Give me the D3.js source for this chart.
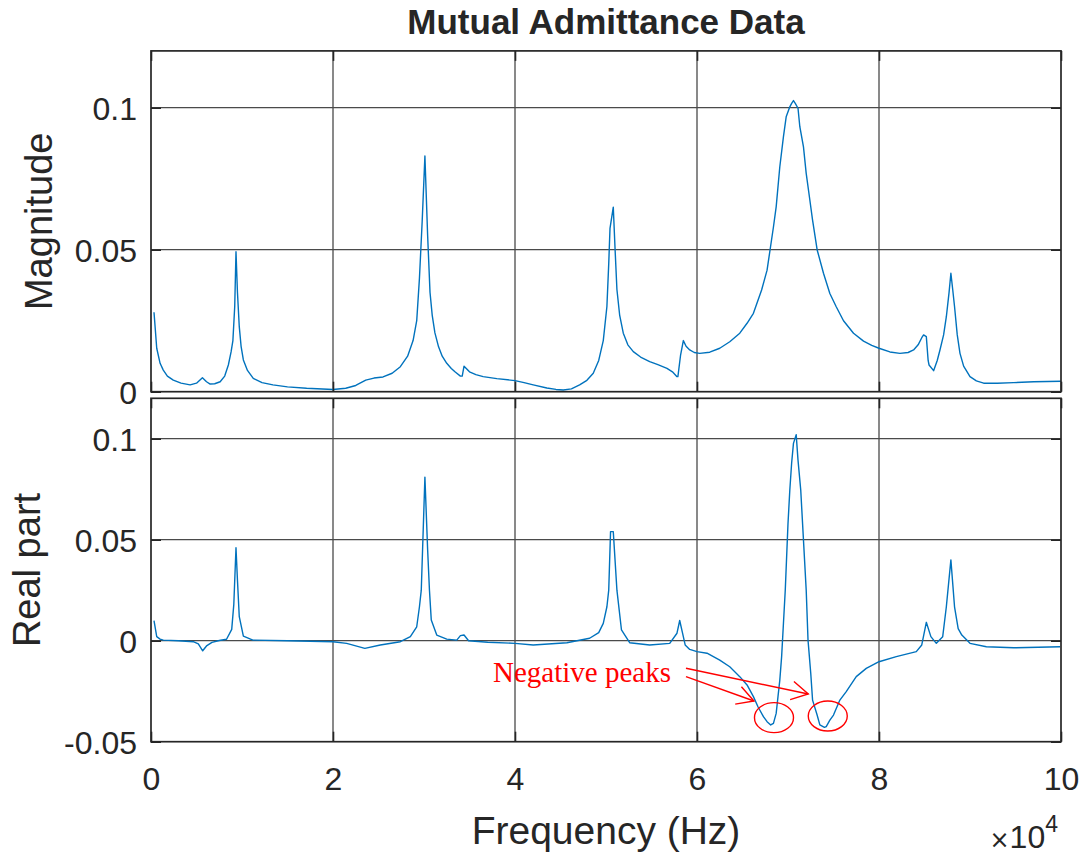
<!DOCTYPE html>
<html lang="en">
    <head>
        <meta charset="utf-8">
        <title>Mutual Admittance Data</title>
        <script src="https://d3js.org/d3.v7.min.js"></script>
        <style type="text/css">
            body { margin: 0; background: #fff; }
            svg { display: block; }
            .tick text, .lbl { font-family: "Liberation Sans", Arial, sans-serif; fill: #262626; }
        </style>
    </head>
    <body>
        <svg id="chart" width="1086" height="854"></svg>
        <script type="text/javascript">

            // frequency in Hz
            const magFreq = [
                330, 630, 1000, 1350, 1800, 2450, 3300, 4300, 5000, 5650,
                6100, 6500, 7000, 7600, 8100, 8500, 8800, 9000, 9200, 9340,
                9500, 9700, 9900, 10150, 10600, 11240, 12200, 13400, 15000, 17100,
                20000, 21400, 22500, 23600, 24500, 25500, 26500, 27400, 28200, 28800,
                29200, 29500, 29800, 30100, 30400, 30660, 30900, 31200, 31600, 32000,
                32500, 33000, 33400, 34000, 34200, 34400, 34700, 35000, 35700, 36500,
                38000, 40000, 41000, 42000, 43500, 44500, 45300, 46200, 47100, 47900,
                48600, 49200, 49700, 50100, 50300, 50440, 50800, 51000, 51200, 51500,
                51900, 52400, 53000, 53800, 54800, 55700, 56700, 57300, 57800, 57900,
                58200, 58500, 58800, 59200, 59700, 60300, 61400, 62500, 63600, 64700,
                65500, 66200, 67100, 67700, 68400, 68700, 69100, 69500, 69800, 70200,
                70400, 70600, 70800, 71100, 71300, 71700, 72000, 72400, 72700, 73200,
                73900, 74600, 75300, 76100, 77200, 78300, 79200, 80000, 81200, 82300,
                83200, 83800, 84300, 84700, 84900, 85200, 85400, 85500, 86000, 86400,
                86700, 87100, 87400, 87700, 87900, 88100, 88300, 88600, 88900, 89300,
                90000, 90700, 91500, 93000, 94800, 97000, 100000];
            const magValue = [
                0.028, 0.0153, 0.010, 0.0076, 0.0055, 0.0041, 0.0030, 0.0024, 0.0030, 0.0049,
                0.0035, 0.0027, 0.0028, 0.0035, 0.0055, 0.0094, 0.0140, 0.0180, 0.030, 0.0493,
                0.035, 0.0229, 0.0160, 0.0112, 0.0075, 0.0047, 0.0032, 0.0024, 0.0017, 0.0012,
                0.0008, 0.0012, 0.0022, 0.0041, 0.0048, 0.0052, 0.0065, 0.0088, 0.0125, 0.0180,
                0.025, 0.040, 0.060, 0.083, 0.055, 0.035, 0.027, 0.0207, 0.0158, 0.0125,
                0.0100, 0.0082, 0.0070, 0.0055, 0.0055, 0.0090, 0.0080, 0.0070, 0.0060, 0.0053,
                0.0046, 0.0039, 0.0032, 0.0024, 0.0013, 0.0008, 0.0006, 0.0010, 0.0024, 0.0040,
                0.0065, 0.0110, 0.0180, 0.0300, 0.0450, 0.0575, 0.065, 0.050, 0.036, 0.027,
                0.0206, 0.0165, 0.0141, 0.0122, 0.0106, 0.0095, 0.0082, 0.0070, 0.0053, 0.0053,
                0.0130, 0.0180, 0.0160, 0.0147, 0.0138, 0.0135, 0.0139, 0.0153, 0.0176, 0.0206,
                0.0241, 0.0276, 0.0358, 0.0428, 0.058, 0.0651, 0.0792, 0.0898, 0.0968, 0.1003,
                0.1015, 0.1025, 0.1015, 0.0998, 0.0933, 0.0862, 0.0769, 0.0675, 0.0604, 0.0500,
                0.0417, 0.0346, 0.0299, 0.0250, 0.0206, 0.0178, 0.0163, 0.0153, 0.0140, 0.0135,
                0.0138, 0.0147, 0.0165, 0.0190, 0.0200, 0.0194, 0.0110, 0.0094, 0.0074, 0.0110,
                0.0147, 0.0200, 0.0264, 0.0350, 0.0417, 0.0360, 0.0300, 0.0200, 0.0135, 0.0090,
                0.0053, 0.0038, 0.0030, 0.0030, 0.0032, 0.0035, 0.0037];

            const reFreq = [
                330, 630, 1000, 1350, 3000, 4650, 5200, 5680, 6100, 6700,
                7500, 8300, 8870, 9100, 9340, 9500, 9700, 10150, 11200, 15000,
                20000, 21500, 23500, 25200, 27400, 28500, 29200, 29500, 29700, 30100,
                30400, 30600, 30800, 31400, 32500, 33600, 34000, 34400, 34900, 37000,
                40000, 42000, 45700, 48200, 49200, 49700, 50100, 50300, 50500, 50800,
                51200, 51700, 52600, 54800, 57000, 57800, 58100, 58400, 58700, 59200,
                60000, 61100, 62500, 63600, 64700, 65500, 66200, 66700, 67300, 67700,
                68100, 68400, 68700, 68900, 69100, 69300, 69500, 69700, 70000, 70200,
                70400, 70600, 70900, 71100, 71400, 71700, 72000, 72200, 72500, 72700,
                73200, 73500, 74000, 74200, 74600, 75000, 75700, 76400, 77500, 78600,
                80000, 81900, 84100, 84700, 85200, 85700, 86300, 87000, 87400, 87900,
                88300, 88700, 89100, 90000, 91800, 94800, 99900];
            const reValue = [
                0.0099, 0.0020, 0.0008, 0.0003, 0.0, -0.0005, -0.0016, -0.0050, -0.0026, -0.0008,
                0.0001, 0.0007, 0.0056, 0.018, 0.046, 0.030, 0.0119, 0.0023, 0.0003, 0.0,
                -0.0005, -0.0013, -0.0038, -0.0021, -0.0005, 0.0020, 0.0069, 0.0168, 0.025, 0.081,
                0.045, 0.025, 0.0102, 0.0028, 0.0008, 0.0003, 0.0025, 0.0028, 0.0, -0.0008,
                -0.0013, -0.0021, -0.0010, 0.0012, 0.0040, 0.0086, 0.0168, 0.025, 0.054, 0.054,
                0.025, 0.0053, -0.0010, -0.0021, -0.0013, 0.0037, 0.0100, 0.0040, -0.0021, -0.0043,
                -0.0054, -0.0062, -0.0096, -0.0129, -0.0178, -0.0219, -0.0277, -0.0327, -0.0376, -0.0401,
                -0.0417, -0.0409, -0.0360, -0.0277, -0.0195, -0.0079, 0.0086, 0.0251, 0.0580, 0.0746,
                0.0880, 0.0977, 0.1020, 0.0894, 0.0746, 0.0498, 0.0251, 0.0003, -0.0161, -0.0294,
                -0.0368, -0.0417, -0.0429, -0.0425, -0.0393, -0.0368, -0.0294, -0.0252, -0.0178, -0.0137,
                -0.0104, -0.0079, -0.0054, -0.0021, 0.0091, 0.0020, -0.0013, 0.0020, 0.0168, 0.0400,
                0.0168, 0.0060, 0.0028, -0.0013, -0.0030, -0.0035, -0.0030];

            const xTicks = [0, 20000, 40000, 60000, 80000, 100000];
            const magTicks = [0, 0.05, 0.1];
            const reTicks = [-0.05, 0, 0.05, 0.1];

            // annotation anchors (Hz, real part)
            const notePos = [37580, -0.0204];
            const arrowStart = [[58790, -0.0178], [58790, -0.01366]];
            const arrowEnd = [[66260, -0.02985], [72230, -0.02638]];
            const circleCenter = [[68460, -0.0381], [74370, -0.0373]];

            const left = 151, right = 1061;
            const ink = "#262626";
            const lineColor = "#0072BD";

            const svg = d3.select("#chart");

            const x = d3.scaleLinear().domain([0, 100000]).range([left, right]);

            function fmt(d) {
                // plain hyphen minus like the original
                return String(+d.toFixed(2));
            }

            function drawPanel(freq, vals, yDomain, yRange, yTicks, label, labelX) {
                const y = d3.scaleLinear().domain(yDomain).range(yRange);
                const g = svg.append("g");

                // grid
                g.selectAll(".vg").data(xTicks.slice(1, -1)).join("line")
                    .attr("x1", d => x(d)).attr("x2", d => x(d))
                    .attr("y1", yRange[1]).attr("y2", yRange[0])
                    .attr("stroke", "#4a4a4a").attr("stroke-width", 1.3);
                g.selectAll(".hg").data(yTicks.filter(t => y(t) > yRange[1] + 1 && y(t) < yRange[0] - 1)).join("line")
                    .attr("x1", left).attr("x2", right)
                    .attr("y1", d => y(d)).attr("y2", d => y(d))
                    .attr("stroke", "#4a4a4a").attr("stroke-width", 1.3);

                // curve
                const pts = freq.map((f, i) => [f, vals[i]]);
                g.append("path")
                    .datum(pts)
                    .attr("fill", "none")
                    .attr("stroke", lineColor)
                    .attr("stroke-width", 1.4)
                    .attr("stroke-linejoin", "round")
                    .attr("d", d3.line().x(d => x(d[0])).y(d => y(d[1])));

                // axes with inward ticks
                const tl = 10;
                g.append("g").attr("transform", "translate(" + left + ",0)")
                    .call(d3.axisLeft(y).tickValues(yTicks).tickSizeInner(-tl).tickSizeOuter(0).tickPadding(14).tickFormat(fmt))
                    .call(a => a.select(".domain").remove())
                    .call(a => a.selectAll("line").attr("stroke", ink).attr("stroke-width", 1.6))
                    .call(a => a.selectAll("text").attr("font-size", 32).attr("fill", ink).attr("dy", "0.36em"));
                g.append("g").attr("transform", "translate(" + right + ",0)")
                    .call(d3.axisRight(y).tickValues(yTicks).tickSizeInner(-tl).tickSizeOuter(0).tickFormat(""))
                    .call(a => a.select(".domain").remove())
                    .call(a => a.selectAll("line").attr("stroke", ink).attr("stroke-width", 1.6));
                g.append("g").attr("transform", "translate(0," + yRange[1] + ")")
                    .call(d3.axisTop(x).tickValues(xTicks).tickSizeInner(-tl).tickSizeOuter(0).tickFormat(""))
                    .call(a => a.select(".domain").remove())
                    .call(a => a.selectAll("line").attr("stroke", ink).attr("stroke-width", 1.6));
                g.append("g").attr("transform", "translate(0," + yRange[0] + ")")
                    .call(d3.axisBottom(x).tickValues(xTicks).tickSizeInner(-tl).tickSizeOuter(0).tickFormat(""))
                    .call(a => a.select(".domain").remove())
                    .call(a => a.selectAll("line").attr("stroke", ink).attr("stroke-width", 1.6));

                // box
                g.append("rect")
                    .attr("x", left).attr("y", yRange[1])
                    .attr("width", right - left).attr("height", yRange[0] - yRange[1])
                    .attr("fill", "none").attr("stroke", ink).attr("stroke-width", 1.7);

                // y label
                const cy = (yRange[0] + yRange[1]) / 2;
                g.append("text").attr("class", "lbl")
                    .attr("transform", "translate(" + labelX + "," + cy + ") rotate(-90)")
                    .attr("text-anchor", "middle")
                    .attr("font-size", 38)
                    .text(label);

                return y;
            }

            const yMag = drawPanel(magFreq, magValue, [0, 0.12], [391.7, 50.9], magTicks, "Magnitude", 52);
            const yRe = drawPanel(reFreq, reValue, [-0.05, 0.12], [741.7, 398.3], reTicks, "Real part", 40);

            // x tick labels (scaled by 1e4)
            svg.append("g").attr("transform", "translate(0,741.7)")
                .call(d3.axisBottom(x).tickValues(xTicks).tickSize(0).tickPadding(26).tickFormat(d => d / 10000))
                .call(a => a.select(".domain").remove())
                .call(a => a.selectAll("text").attr("font-size", 32).attr("fill", ink));

            svg.append("text").attr("class", "lbl")
                .attr("x", (left + right) / 2).attr("y", 844)
                .attr("text-anchor", "middle").attr("font-size", 39)
                .text("Frequency (Hz)");

            const exp = svg.append("text").attr("class", "lbl")
                .attr("x", 1058).attr("y", 848)
                .attr("text-anchor", "end").attr("font-size", 32);
            exp.append("tspan").attr("font-family", "'DejaVu Sans', sans-serif").attr("font-size", 24).text("\u00D7");
            exp.append("tspan").text("10");
            exp.append("tspan").attr("font-size", 23).attr("dy", -16).text("4");

            // title
            svg.append("text").attr("class", "lbl")
                .attr("x", (left + right) / 2).attr("y", 34)
                .attr("text-anchor", "middle").attr("font-size", 35).attr("font-weight", "bold")
                .attr("fill", "#000")
                .text("Mutual Admittance Data");

            // annotation
            const red = "#FF0000";
            const ann = svg.append("g");
            ann.append("text")
                .attr("x", x(notePos[0])).attr("y", yRe(notePos[1]))
                .attr("font-family", "'Liberation Serif', 'Times New Roman', serif")
                .attr("font-size", 29).attr("fill", red)
                .text("Negative peaks");

            arrowStart.forEach((s, i) => {
                const x0 = x(s[0]), y0 = yRe(s[1]);
                const x1 = x(arrowEnd[i][0]), y1 = yRe(arrowEnd[i][1]);
                const ang = Math.atan2(y0 - y1, x0 - x1);
                const hl = 19, ha = 29 * Math.PI / 180;
                ann.append("line")
                    .attr("x1", x0).attr("y1", y0).attr("x2", x1).attr("y2", y1)
                    .attr("stroke", red).attr("stroke-width", 1.4);
                ann.append("path")
                    .attr("d", "M" + (x1 + hl * Math.cos(ang + ha)) + "," + (y1 + hl * Math.sin(ang + ha)) +
                        "L" + x1 + "," + y1 +
                        "L" + (x1 + hl * Math.cos(ang - ha)) + "," + (y1 + hl * Math.sin(ang - ha)))
                    .attr("fill", "none").attr("stroke", red).attr("stroke-width", 1.4);
            });

            ann.selectAll("ellipse").data(circleCenter).join("ellipse")
                .attr("cx", d => x(d[0])).attr("cy", d => yRe(d[1]))
                .attr("rx", 19.5).attr("ry", 15)
                .attr("fill", "none").attr("stroke", red).attr("stroke-width", 1.4);

        </script>
    </body>
</html>
